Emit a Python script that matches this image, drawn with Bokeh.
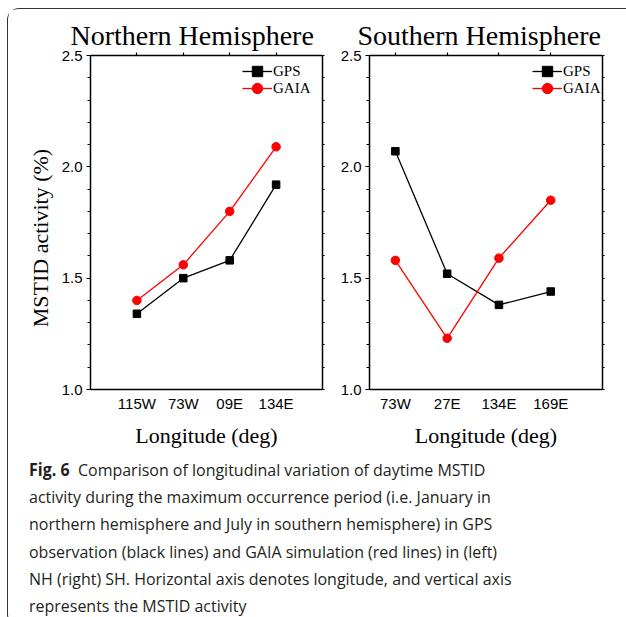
import numpy as np
from bokeh.plotting import figure
from bokeh.models import (Range1d, LinearAxis, FixedTicker, PrintfTickFormatter,
                          Legend, LegendItem, Div, Grid, Spacer)
from bokeh.core.properties import value
from bokeh.layouts import row, column
from bokeh.embed import file_html
from bokeh.resources import INLINE

# ---------------- data ----------------
nh_lon = ["115W", "73W", "09E", "134E"]
nh_gps = [1.34, 1.50, 1.58, 1.92]
nh_gaia = [1.40, 1.56, 1.80, 2.09]

sh_lon = ["73W", "27E", "134E", "169E"]
sh_gps = [2.07, 1.52, 1.38, 1.44]
sh_gaia = [1.58, 1.23, 1.59, 1.85]

y_ticks = [1.0, 1.5, 2.0, 2.5]
y_minor = [1.1, 1.2, 1.3, 1.4, 1.6, 1.7, 1.8, 1.9, 2.1, 2.2, 2.3, 2.4]
y_title = "MSTID activity (%)"
x_title = "Longitude (deg)"

caption_lines = [
    "Comparison of longitudinal variation of daytime MSTID",
    "activity during the maximum occurrence period (i.e. January in",
    "northern hemisphere and July in southern hemisphere) in GPS",
    "observation (black lines) and GAIA simulation (red lines) in (left)",
    "NH (right) SH. Horizontal axis denotes longitude, and vertical axis",
    "represents the MSTID activity",
]

SERIF = "Liberation Serif"
SANS = "Liberation Sans"
FIG_H = 442


def panel(title, cats, gps, gaia, xr, width, mbl, mbr, t_off, leg_x):
    xs = list(range(1, len(cats) + 1))
    p = figure(width=width, height=FIG_H, x_range=Range1d(*xr), y_range=Range1d(1.0, 2.5),
               output_backend="svg", toolbar_location=None,
               min_border_left=mbl, min_border_right=mbr,
               min_border_top=46, min_border_bottom=62,
               x_axis_location=None, y_axis_location=None, title=title)
    for g in p.select(type=Grid):
        g.visible = False
    p.outline_line_color = None
    p.background_fill_color = "white"
    p.border_fill_color = "white"

    p.title.text_font = SERIF
    p.title.text_font_size = "28px"
    p.title.text_font_style = "normal"
    p.title.text_color = "black"
    p.title.align = "left"
    p.title.offset = t_off
    p.title.standoff = 3

    yt = FixedTicker(ticks=y_ticks, minor_ticks=y_minor)
    xt = FixedTicker(ticks=xs, minor_ticks=[])

    left = LinearAxis(ticker=yt, formatter=PrintfTickFormatter(format="%.1f"),
                      major_tick_out=4, major_tick_in=0, minor_tick_out=3, minor_tick_in=0,
                      major_label_standoff=4, axis_line_width=1.5,
                      major_tick_line_width=1.2, minor_tick_line_width=1.2,
                      major_label_text_font=SANS, major_label_text_font_size="15px",
                      major_label_text_color="black")
    p.add_layout(left, "left")

    right = LinearAxis(ticker=yt, major_tick_out=2, major_tick_in=0, minor_tick_out=2,
                       minor_tick_in=0, major_label_text_font_size="1px",
                       major_label_text_color=None,
                       major_label_standoff=0, axis_line_width=1.5,
                       major_tick_line_width=1.2, minor_tick_line_width=1.2)
    p.add_layout(right, "right")

    bottom = LinearAxis(ticker=xt, major_label_overrides={x: c for x, c in zip(xs, cats)},
                        major_tick_out=0, major_tick_in=0, major_label_standoff=5,
                        axis_line_width=1.5, axis_label=x_title,
                        axis_label_text_font=SERIF, axis_label_text_font_size="22px",
                        axis_label_text_font_style="normal", axis_label_text_color="black",
                        axis_label_standoff=8,
                        major_label_text_font=SANS, major_label_text_font_size="15px",
                        major_label_text_color="black")
    p.add_layout(bottom, "below")

    top = LinearAxis(ticker=xt, major_tick_out=3, major_tick_in=0,
                     major_label_text_font_size="1px", major_label_text_color=None,
                     major_label_standoff=0,
                     axis_line_width=1.5, major_tick_line_width=1.2)
    p.add_layout(top, "above")

    l1 = p.line(xs, gps, line_color="black", line_width=1.3)
    m1 = p.scatter(xs, gps, marker="square", size=7.5, fill_color="black", line_color="black")
    l2 = p.line(xs, gaia, line_color="red", line_width=1.3)
    m2 = p.scatter(xs, gaia, marker="circle", size=8.5, fill_color="red", line_color="red")

    common = dict(glyph_width=30, glyph_height=26, label_height=26, label_standoff=1,
                  spacing=0, padding=0, margin=0, border_line_alpha=0,
                  background_fill_alpha=0, label_text_font=SERIF,
                  label_text_font_size="15px", label_text_color="black")
    leg1 = Legend(items=[LegendItem(label="GPS", renderers=[l1, m1])],
                  location=(leg_x, 305), **common)
    leg2 = Legend(items=[LegendItem(label="GAIA", renderers=[l2, m2])],
                  location=(leg_x, 288), **common)
    p.add_layout(leg1)
    p.add_layout(leg2)
    return p


# narrow strip (same frame height as the panels) that carries the vertical axis title
pl = figure(width=50, height=FIG_H, x_range=Range1d(0, 50), y_range=Range1d(1.0, 2.5),
            output_backend="svg", toolbar_location=None,
            min_border_left=0, min_border_right=0, min_border_top=46, min_border_bottom=62,
            x_axis_location=None, y_axis_location=None)
for g in pl.select(type=Grid):
    g.visible = False
pl.outline_line_color = None
pl.background_fill_color = "white"
pl.border_fill_color = "white"
pl.text(x=[32], y=[1.68], text=[y_title], angle=np.pi / 2, text_align="center",
        text_baseline="middle", text_font=value(SERIF), text_font_size="22px",
        text_color="black")

p1 = panel("Northern Hemisphere", nh_lon, nh_gps, nh_gaia, (0, 5), 274, 32, 10, -20, 152)
p2 = panel("Southern Hemisphere", sh_lon, sh_gps, sh_gaia, (0.5, 5.0), 286, 37, 16, -12, 163)

cap_html = ('<div style="padding:0 0 0 16px;">'
            '<div style="font-family:\'Open Sans\', sans-serif; font-size:17px; line-height:27.2px; '
            'color:#231f20; white-space:nowrap; transform:scaleX(0.94); transform-origin:left top;">'
            '<b style="margin-right:9px;">Fig. 6</b>' + "<br>".join(caption_lines) + '</div></div>')
cap = Div(text=cap_html, width=610, height=164)

framed = column(row(pl, p1, p2), cap,
                styles={"border-left": "1px solid #333", "border-top": "1px solid #333",
                        "border-bottom": "1px solid #333",
                        "border-radius": "12px 0 0 12px", "background": "white"})

layout = column(Spacer(height=8), row(Spacer(width=7), framed))

open("out.html", "w").write(file_html(layout, INLINE))
